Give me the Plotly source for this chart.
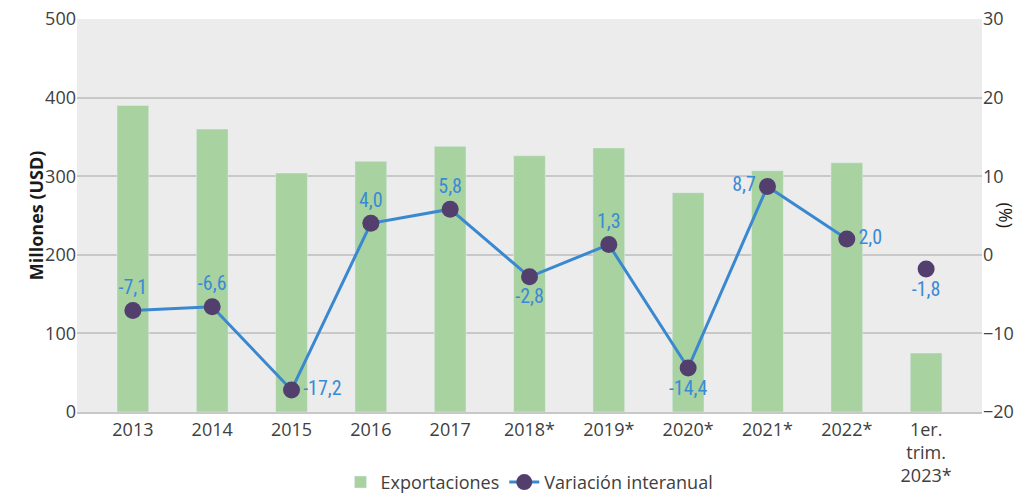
import plotly.graph_objects as go

categories = ["2013", "2014", "2015", "2016", "2017", "2018*", "2019*", "2020*",
              "2021*", "2022*", "1er.<br>trim.<br>2023*"]
exportaciones = [390, 360, 304, 319, 338, 326, 336, 279, 307, 317, 75]
variacion = [-7.1, -6.6, -17.2, 4.0, 5.8, -2.8, 1.3, -14.4, 8.7, 2.0, -1.8]
label_pos = ["top center", "top center", "middle right", "top center", "top center",
             "bottom center", "top center", "bottom center", "middle left",
             "middle right", "bottom center"]

labels = [f"{v:.1f}".replace(".", ",") for v in variacion]

GREEN = "#a8d2a0"
LINE = "#3a88cf"
MARK = "#523f6e"
LBL = "#3a8ad6"
TICK = "#404040"
label_font = dict(family="Roboto Condensed, DejaVu Sans Condensed, Roboto", size=20, color=LBL)

fig = go.Figure()
fig.add_trace(go.Bar(
    x=categories, y=exportaciones, name="Exportaciones",
    marker=dict(color=GREEN), yaxis="y",
))
fig.add_trace(go.Scatter(
    x=categories[:-1], y=variacion[:-1], name="Variación interanual",
    mode="lines+markers+text", yaxis="y2",
    line=dict(color=LINE, width=3),
    marker=dict(color=MARK, size=17),
    text=labels[:-1], textposition=label_pos[:-1], textfont=label_font,
))
fig.add_trace(go.Scatter(
    x=categories[-1:], y=variacion[-1:], name="Variación interanual",
    mode="markers+text", yaxis="y2", showlegend=False,
    marker=dict(color=MARK, size=17),
    text=labels[-1:], textposition=label_pos[-1:], textfont=label_font,
))

fig.update_layout(
    width=1028, height=488,
    margin=dict(l=69, r=54, t=11, b=84),
    paper_bgcolor="white", plot_bgcolor="#ececec",
    bargap=0.6,
    font=dict(family="Open Sans, Roboto, sans-serif", color=TICK, size=16),
    xaxis=dict(
        showgrid=False, showline=True, linecolor="#c8c8c8", linewidth=2,
        tickfont=dict(size=18, color=TICK), ticks="", automargin=False,
    ),
    yaxis=dict(
        range=[0, 500], dtick=100, showgrid=True, gridcolor="#c8c8c8", gridwidth=1.5,
        zeroline=False, tickfont=dict(size=18, color=TICK), automargin=False,
        ticklabeloverflow="allow",
    ),
    yaxis2=dict(
        range=[-20, 30], dtick=10, overlaying="y", side="right", showgrid=False,
        zeroline=False, tickfont=dict(size=18, color=TICK), automargin=False,
        ticklabeloverflow="allow",
    ),
    legend=dict(
        orientation="h", x=0.5, xanchor="center", xref="paper",
        y=0.028, yanchor="middle", yref="container",
        font=dict(size=18, color=TICK), bgcolor="rgba(0,0,0,0)",
    ),
    annotations=[
        dict(text="<b>Millones (USD)</b>", xref="paper", yref="paper",
             x=-0.061, y=0.5, textangle=-90, showarrow=False,
             font=dict(size=18, color="#1a1a1a")),
        dict(text="(%)", xref="paper", yref="paper",
             x=1.042, y=0.5, textangle=90, showarrow=False,
             font=dict(size=18, color="#1a1a1a")),
    ],
)

fig.write_html("out.html")
